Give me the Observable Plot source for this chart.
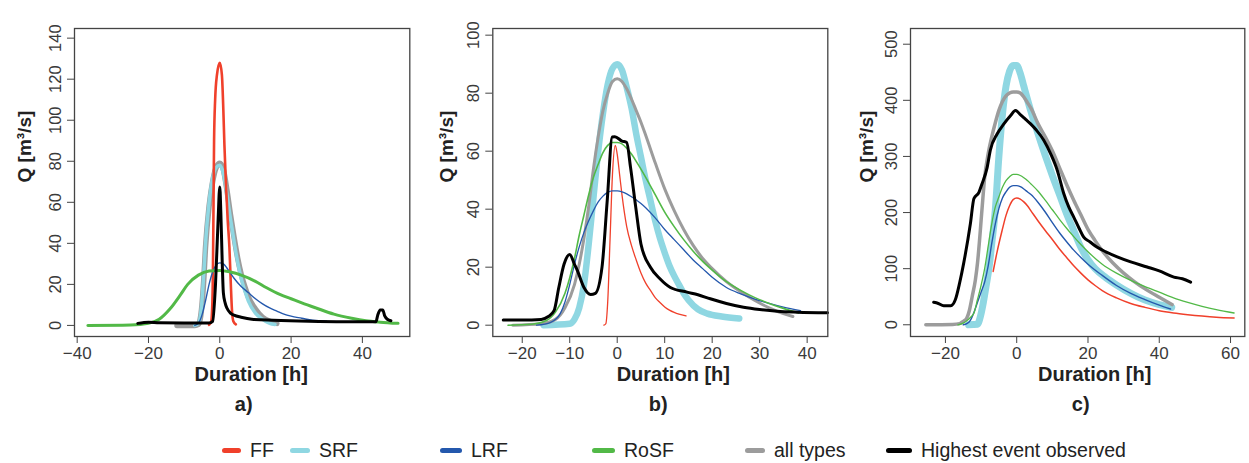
<!DOCTYPE html>
<html>
<head>
<meta charset="utf-8">
<script src="https://cdn.jsdelivr.net/npm/d3@7"></script>
<script src="https://cdn.jsdelivr.net/npm/@observablehq/plot@0.6"></script>
<style>
  html, body { margin: 0; padding: 0; background: #fff; }
  #wrap { position: relative; width: 1249px; height: 463px; overflow: hidden; font-family: 'Liberation Sans', Arial, Helvetica, sans-serif; }
  .panel { position: absolute; top: 0; }
  .leg { position: absolute; top: 437px; height: 26px; display: flex; align-items: center; font-size: 19.5px; color: #222; }
  .leg span.sw { display: inline-block; height: 5px; border-radius: 3px; margin-right: 9px; }
</style>
</head>
<body>
<div id="wrap"></div>
<script>
// ---------- tick labels ----------
const xTicksA = [-40, -20, 0, 20, 40];
const yTicksA = [0, 20, 40, 60, 80, 100, 120, 140];
const xTicksB = [-20, -10, 0, 10, 20, 30, 40];
const yTicksB = [0, 20, 40, 60, 80, 100];
const xTicksC = [-20, 0, 20, 40, 60];
const yTicksC = [0, 100, 200, 300, 400, 500];

// ---------- legend ----------
const seriesNames = ["FF", "SRF", "LRF", "RoSF", "all types", "Highest event observed"];
const seriesColors = ["#f0402b", "#8fd7e2", "#2458ad", "#52b947", "#9c9c9c", "#000000"];

// ---------- panel a) values: [duration h, Q m3/s] ----------
const a_FF = [[-3,0.3],[-2.4,2],[-2.1,10],[-1.9,30],[-1.75,60],[-1.6,90],[-1.3,110],[-0.8,122],[0,128],[0.6,122],[1.0,105],[1.3,88],[1.7,70],[2.2,52],[2.7,38],[3.1,20],[3.4,8],[3.8,2],[4.5,0.5]];
const a_SRF = [[-7,0],[-6,1],[-5.5,4],[-5,12],[-4.5,25],[-4,40],[-3,60],[-2,72],[-1,77],[0,78],[1,74],[2,64],[3,52],[4,41],[5,31],[6,23],[7,17],[8,12],[10,6],[12,3],[14,1],[15.5,0.5]];
const a_LRF = [[-7,0],[-6,1],[-5,5],[-4,12],[-3,20],[-2,26],[-1,29.5],[0,30.5],[1,30],[2,28],[3,25.5],[4,23],[6,19],[8,16],[10,13],[12,10.5],[14,8.5],[16,7],[18,5.5],[20,4.5],[23,3.5],[26,2.5],[30,2]];
const a_RoSF = [[-37,0],[-25,0.2],[-20,1],[-17,3],[-14,8],[-11,15],[-9,20],[-6,24.5],[-3,26.5],[0,26.8],[3,26],[6,24.5],[10,21.5],[13,18.5],[17,15],[20,13],[23,11],[27,8.5],[32,5.5],[37,3.5],[41,2.3],[45,1.6],[50,1]];
const a_ALL = [[-12,0],[-7,0],[-6,0.5],[-5.5,3],[-5,10],[-4.5,22],[-4,38],[-3,58],[-2,70],[-1,77],[0,79],[1,76],[2,66],[3,54],[4,43],[5,33],[6,25],[7,19],[8,14],[10,8],[12,4],[14,2],[16,1]];
const a_OBS = [[-23,1],[-20,1.6],[-17,1.3],[-10,1.2],[-3,1.2],[-2,2],[-1.2,20],[-0.5,50],[0,67.5],[0.3,55],[0.7,30],[1,16],[1.5,11],[2,8.5],[3,6],[4,5],[6,4],[9,3],[15,2.5],[25,2],[35,1.8],[43.8,1.8],[44.3,5],[45,7.5],[45.7,7.5],[46.3,4.5],[47,3],[48,2.3]];

// ---------- panel b) values ----------
const b_FF = [[-2.8,0],[-2.4,0.5],[-2,8],[-1.5,30],[-1,52],[-0.4,62],[0,59],[0.5,52],[1,45],[1.5,39],[2,34],[3,27.5],[4,22.5],[5,18],[6,14.5],[7,12],[8,9.5],[9,7.8],[10,6.3],[11,5.2],[12,4.4],[13,3.8],[14.5,3.2]];
const b_SRF = [[-15.5,0],[-10,0.5],[-9,2],[-8,6],[-7,14],[-6,28],[-5,44],[-4,60],[-3,73],[-2,83],[-1,88.5],[0,90],[1,88],[2,82],[3,75],[4,66],[5,58],[6,50],[7,43],[8,36],[9,30],[10,25],[11,20.5],[12,17],[13,14],[14,11],[15,8.7],[17,5.5],[19,4],[22,3],[25.7,2.3]];
const b_LRF = [[-17,0],[-14,1],[-12,4],[-11,8],[-10,14],[-9,21],[-8,27],[-7,32],[-6,36],[-5,39.5],[-4,42.5],[-3,44.5],[-2,45.8],[-1,46.3],[0,46.3],[1,46],[2,45.3],[3,44.3],[4,43.2],[5,42],[6,40.5],[8,37],[10,33],[12,29.5],[14,26],[16,22.5],[18,19.5],[20,16.5],[23,13],[26,10.8],[29,9],[32,7.5],[35,6.2],[38.6,5]];
const b_RoSF = [[-23,0],[-18,0.3],[-15,1.5],[-13,4.5],[-11,11],[-9,23],[-8,31],[-7,38],[-6,45],[-5,51],[-4,55.5],[-3,59.5],[-2,62],[-1,63],[0,63],[1,62.5],[2,61],[3,59],[4,56.5],[6,51],[8,45],[10,39],[12,34],[14,29.5],[16,25.5],[18,22],[20,19],[23,15],[26,12],[29,9.5],[32,7.5],[35,5.8],[38.2,4.2]];
const b_ALL = [[-22,0],[-16,0.5],[-13,2],[-11,6],[-9,14],[-8,21],[-7,30],[-6,41],[-5,54],[-4,65],[-3,74],[-2,80],[-1,84],[0,85],[1,84],[2,81.5],[3,78],[4,74],[5,70],[6,65.5],[8,56],[10,47],[12,39.5],[14,33],[16,27.5],[18,23],[20,19.5],[23,15],[26,11.5],[29,8.5],[32,6],[35,4],[37,3]];
const b_OBS = [[-24,1.8],[-20,1.8],[-16,2],[-14.5,3],[-13.3,5],[-12.3,13],[-11.2,21],[-10,24.4],[-9,21],[-8.4,18.9],[-7,13],[-5.6,10.6],[-4.6,11],[-3.2,20],[-2.1,43],[-1.05,64.9],[-0.5,65],[1,63.5],[2,63],[2.8,54.5],[3.9,40.7],[5,28],[7,20],[9,16],[11.2,13],[14.7,11.4],[17,10.5],[19.6,9.1],[23,7.5],[26.6,6.2],[30,5.4],[33.7,4.8],[38,4.5],[44.3,4.3]];

// ---------- panel c) values ----------
const c_FF = [[-6.6,95],[-5.5,130],[-4.1,168],[-3,195],[-2,212],[-1,223],[0,226],[1,224],[2,219],[3,212],[4,203],[6,185],[8,168],[10,152],[12,135],[14,120],[16,105],[18,92],[20,80],[22,70],[24,61],[28,48],[32,38],[36,31],[40,25],[44,21],[48,18],[52,15.5],[56,13.5],[61,12]];
const c_SRF = [[-13.5,0],[-11,1],[-10.3,12],[-9.5,35],[-8.7,65],[-7.8,100],[-7,145],[-6,205],[-5,300],[-4,375],[-3,425],[-2,452],[-1,462],[0,462],[1,448],[2,425],[3,402],[4,380],[5,360],[6,340],[8,302],[10,266],[12,232],[14,198],[16,168],[18,138],[20,116],[22,100],[25,84],[28,71],[32,56],[36,44],[40,36],[43.5,31]];
const c_LRF = [[-15,0],[-14,2],[-13,8],[-12,22],[-11,40],[-10,58],[-9,76],[-8,105],[-7,145],[-6,180],[-5,207],[-4,226],[-3,237],[-2,245],[-1,248],[0,248],[1,246],[2,242],[3,237],[4,232],[6,218],[8,201],[10,182],[12,164],[14,148],[16,133],[18,120],[20,108],[24,88],[28,70],[32,56],[36,45],[40,35],[43.2,28]];
const c_RoSF = [[-16.5,0],[-15,3],[-14,7],[-13,13],[-12,21],[-11,45],[-10,70],[-9,100],[-8,140],[-7,180],[-6,210],[-5,228],[-4,245],[-3,257],[-2,264],[-1,268],[0,268],[1,266],[2,262],[3,257],[4,251],[6,238],[8,222],[10,205],[12,188],[14,172],[16,157],[18,143],[20,130],[24,108],[28,92],[32,79],[36,68],[40,58],[44,48],[48,40],[52,33],[56,27],[61,21]];
const c_ALL = [[-25.5,0],[-18,0.5],[-16,2],[-15,6],[-14,12],[-13.3,25],[-12.5,50],[-11.6,80],[-11,110],[-10.5,145],[-10,185],[-9.5,225],[-9,262],[-8,305],[-7,335],[-6,360],[-5,382],[-4,398],[-3,408],[-2,413],[-1,415],[0,415],[1,413],[2,406],[3,396],[4,386],[6,358],[8,335],[10,310],[12,280],[14,250],[16,222],[18,196],[20,170],[22,150],[24,132],[27,110],[30,92],[33,77],[36,64],[40,49],[43.6,36]];
const c_OBS = [[-23.3,40],[-22,38],[-20.5,34],[-18.5,34],[-17.2,45],[-16,75],[-14.9,109],[-13,180],[-12,225],[-10.6,236],[-9.8,250],[-8.3,280],[-7.4,311],[-5.5,340],[-3.6,358],[-1.7,373],[-0.35,382],[1.1,374],[2.5,366],[3.9,358],[5.5,347],[7.6,329],[9.5,305],[11.4,275],[13.2,234],[14.6,210],[16,192],[17.5,172],[18.8,156],[20.5,148],[22.6,138],[25,130],[28.2,121],[32,112],[36.6,103],[40,96],[44.1,85],[46.5,82],[48.8,76]];

const FONT = "'Liberation Sans', Arial, Helvetica, sans-serif";

function line(data, color, w) {
  return Plot.line(data, {x: d => d[0], y: d => d[1], stroke: color, strokeWidth: w,
    curve: "monotone-x", strokeLinejoin: "round", strokeLinecap: "round"});
}

function panel(o) {
  return Plot.plot({
    width: o.width, height: 420,
    marginLeft: o.ml, marginRight: o.mr, marginTop: 28, marginBottom: 84,
    style: {fontFamily: FONT, background: "white", color: "#3a3a3a", overflow: "visible"},
    x: {domain: o.xDomain},
    y: {domain: o.yDomain},
    marks: [
      ...o.lines,
      Plot.frame({stroke: "#444", strokeWidth: 1.3}),
      Plot.axisX({ticks: o.xTicks, tickSize: 7, tickPadding: 3, fontSize: 17, label: null, stroke: "#444"}),
      Plot.axisY({ticks: o.yTicks, tickSize: 7, tickPadding: 7, tickRotate: -90, fontSize: 16.5, label: null, stroke: "#444"}),
      Plot.text(["Q [m³/s]"], {frameAnchor: "left", dx: o.ylDx, rotate: -90, fontWeight: "bold", fontSize: 19, fill: "#222"}),
      Plot.text(["Duration [h]"], {frameAnchor: "bottom", dy: 44, dx: o.xlDx, fontWeight: "bold", fontSize: 20, fill: "#222"}),
      Plot.text([o.tag], {frameAnchor: "bottom", dy: 74, dx: o.tagDx, fontWeight: "bold", fontSize: 20, fill: "#222"})
    ]
  });
}

const [cFF, cSRF, cLRF, cRoSF, cALL, cOBS] = seriesColors;

const pa = panel({
  width: 420, ml: 74, mr: 10.7, xDomain: [-40.75, 53.3], yDomain: [-5.4, 144.7],
  xTicks: xTicksA, yTicks: yTicksA, ylDx: -50, xlDx: 9, tag: "a)", tagDx: 1.5,
  lines: [line(a_ALL, cALL, 5.5), line(a_SRF, cSRF, 3.5), line(a_FF, cFF, 2.6), line(a_LRF, cLRF, 1.4),
          line(a_RoSF, cRoSF, 3), line(a_OBS, cOBS, 3)]
});
const pb = panel({
  width: 420, ml: 72.3, mr: 12.7, xDomain: [-26.2, 44.35], yDomain: [-3.9, 102.3],
  xTicks: xTicksB, yTicks: yTicksB, ylDx: -46, xlDx: 13, tag: "b)", tagDx: -2,
  lines: [line(b_SRF, cSRF, 6.5), line(b_ALL, cALL, 3), line(b_FF, cFF, 1.3), line(b_LRF, cLRF, 1.3),
          line(b_RoSF, cRoSF, 1.6), line(b_OBS, cOBS, 3)]
});
const pc = panel({
  width: 409, ml: 70, mr: 4.7, xDomain: [-29.8, 64.0], yDomain: [-20.9, 528],
  xTicks: xTicksC, yTicks: yTicksC, ylDx: -44, xlDx: 17, tag: "c)", tagDx: 3,
  lines: [line(c_SRF, cSRF, 7), line(c_ALL, cALL, 3.5), line(c_FF, cFF, 1.5), line(c_LRF, cLRF, 1.4),
          line(c_RoSF, cRoSF, 1.3), line(c_OBS, cOBS, 3)]
});

const wrap = document.getElementById("wrap");
[[pa, 0], [pb, 420], [pc, 840]].forEach(([svg, left]) => {
  svg.classList.add("panel");
  svg.style.left = left + "px";
  wrap.appendChild(svg);
});

// legend (positions of entries)
const legLeft = [222, 290, 440, 592, 745, 886];
const legSw = [19, 20, 22, 23, 20, 26];
seriesNames.forEach((name, i) => {
  const d = document.createElement("div");
  d.className = "leg";
  d.style.left = legLeft[i] + "px";
  const sw = document.createElement("span");
  sw.className = "sw";
  sw.style.width = legSw[i] + "px";
  sw.style.background = seriesColors[i];
  d.appendChild(sw);
  d.appendChild(document.createTextNode(name));
  wrap.appendChild(d);
});
</script>
</body>
</html>
